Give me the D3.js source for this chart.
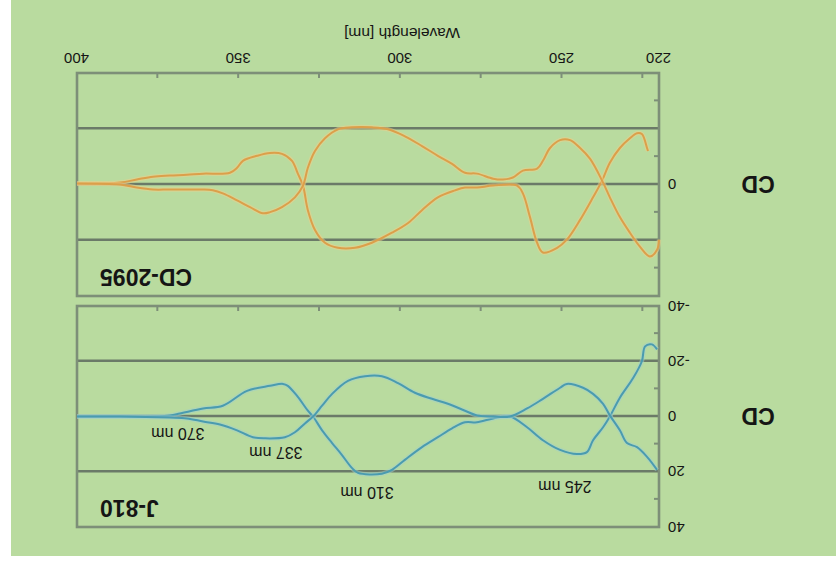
<!DOCTYPE html>
<html>
<head>
<meta charset="utf-8">
<script src="https://cdn.jsdelivr.net/npm/d3@7"></script>
<style>
  html, body { margin: 0; padding: 0; background: #fff; }
  svg text { font-family: "Liberation Sans", Arial, sans-serif; fill: #151515; }
</style>
</head>
<body>
<div id="chart"></div>
<script>
// [wavelength nm, CD mdeg]
const j810A = [[400,0],[386.7,0],[371.3,-0.4],[368.2,-1.1],[361,-2.9],[354.9,-3.9],[347.4,-9.3],[340.3,-11.1],[336.3,-11.8],[334.8,-11.1],[331.7,-7.1],[328.6,-2.1],[327,0],[324.2,5],[321.1,9.6],[318.1,13.9],[315,18.6],[313.1,20.4],[305.7,20.7],[302.6,19.3],[298.6,15.7],[293.3,11.1],[288.4,7.5],[284,4.3],[280,2.1],[276.3,2.1],[271.3,0.7],[266.1,0],[260.8,3.9],[255.9,8.6],[250.6,12.1],[245.4,13.6],[242.3,12.9],[240.4,8.6],[237.3,3.9],[235.2,0],[232.1,-6.8],[228,-13.9],[225.3,-20],[224.3,-25.4],[222.2,-26.1],[220.6,-24.3]];
const j810B = [[400,0],[386.7,0],[371.3,0.4],[366,0.7],[361,1.8],[355.8,2.9],[350.5,5],[345.6,7.5],[341.9,7.9],[335.7,7.5],[332.6,5.7],[329.5,2.5],[327,0],[324.2,-3.9],[321.1,-8.2],[316.2,-12.9],[310.9,-14.6],[305.7,-14.6],[300.7,-12.1],[295.5,-8.6],[290.2,-6.4],[285.3,-4.6],[280,-2.1],[276.3,-0.4],[271.3,0],[266.1,0],[260.8,-2.9],[255.9,-6.4],[250.6,-10.4],[248.5,-11.8],[243.5,-10.4],[240.4,-8.2],[237.3,-4.6],[235.2,-0.4],[232.1,5],[229.9,9.6],[226.8,11.1],[223.7,14.6],[220.6,19.3]];
const cd2095A = [[400,-0.4],[386.7,-0.7],[381.5,-1.8],[376.5,-2.8],[371.3,-3.2],[366,-3.5],[361,-3.9],[352.7,-4.2],[350.5,-6],[348.7,-8.5],[344.3,-10.3],[340.3,-11.3],[336.6,-11],[333.5,-8.5],[331.7,-3.9],[330.1,0.4],[328.6,9.2],[326.4,16.3],[323.3,20.9],[319.3,22.7],[314,22.7],[308.8,20.9],[302.6,17.3],[297.6,13.8],[293.3,9.2],[288.4,4.6],[283.1,2.1],[280,1.1],[276.3,1.1],[271.3,0.4],[263.9,0.4],[262.1,3.2],[259.9,11.7],[257.7,20.9],[255.9,24.4],[251.5,22.7],[248.5,19.8],[244.4,12.7],[240.4,4.6],[237.6,-1.4],[235.2,-7.8],[232.1,-13.1],[229,-16.6],[226.8,-18.4],[225.3,-18.1],[223.7,-13.1],[223.4,-12]];
const cd2095B = [[400,-0.4],[386.7,0],[381.5,1.1],[376.5,1.8],[371.3,1.8],[361,1.8],[358,2.1],[354.9,3.2],[350.5,5.7],[346.5,8.1],[342.5,10.3],[340.3,9.9],[336.6,8.1],[332.6,4.6],[330.1,0.4],[328.6,-6],[326.4,-12],[323.3,-16.6],[319.3,-19.8],[315,-20.5],[308.8,-20.5],[303.8,-19.8],[298.6,-17.3],[293.3,-13.8],[288.4,-10.3],[284,-7.4],[280,-4.2],[276.3,-3.9],[271.3,-2.1],[268.3,-1.8],[265.2,-2.5],[262.1,-5],[257.7,-5.7],[255.9,-8.5],[253.7,-13.1],[250.6,-15.9],[247.5,-15.9],[244.4,-13.1],[241.3,-9.2],[237.6,-1.4],[235.2,4.6],[232.1,11.7],[229,17.3],[225.9,22.3],[222.8,25.8],[220.6,23.4],[220,19.8]];

const xTickLabels = [220, 250, 300, 350, 400];
const xMinorTicks = [225, 250, 275, 300, 325, 350, 375];
const yLabelsJ = [-40, -20, 0, 20, 40];
const yLabelsCD = [0];
const yGrid = [-20, 0, 20];
const yMinor = [-30, -10, 10, 30];
const peakNotes = [
  { text: "370 nm", wl: 368.8, cd: 6.3 },
  { text: "337 nm", wl: 338.5, cd: 13.2 },
  { text: "310 nm", wl: 310.3, cd: 27.7 },
  { text: "245 nm", wl: 249.1, cd: 25.5 }
];

const width = 836, height = 567;
const svg = d3.select("#chart").append("svg")
  .attr("width", width).attr("height", height);

// the reference picture is upside down, so draw upright and turn it round
const g = svg.append("g").attr("transform", "rotate(180," + width / 2 + "," + height / 2 + ")");

g.append("rect").attr("x", 0).attr("y", 11).attr("width", 825).attr("height", 556)
  .attr("fill", "#b9db9f");

const x = d3.scaleLinear().domain([220, 400]).range([177, 759]);
const yJ = d3.scaleLinear().domain([-40, 40]).range([261, 40]);
const yC = d3.scaleLinear().domain([-40, 40]).range([494, 271]);
const plain = d => String(d);   // hyphen minus, like the original

function drawPanel(y, seriesList, color, halo, labels, title) {
  const top = y.range()[1], bottom = y.range()[0];
  const p = g.append("g");

  // grid lines
  p.append("g").attr("transform", "translate(" + x.range()[0] + ",0)")
    .call(d3.axisLeft(y).tickValues(yGrid).tickSize(-(x.range()[1] - x.range()[0])).tickFormat(""))
    .call(s => s.select(".domain").remove())
    .call(s => s.selectAll("line").attr("stroke", "#6b7a68").attr("stroke-width", 2.6));

  // minor y ticks
  p.append("g").attr("transform", "translate(" + x.range()[0] + ",0)")
    .call(d3.axisLeft(y).tickValues(yMinor).tickSize(-5).tickFormat(""))
    .call(s => s.select(".domain").remove())
    .call(s => s.selectAll("line").attr("stroke", "#7d8f78").attr("stroke-width", 2));

  // x ticks on the bottom edge, pointing in
  p.append("g").attr("transform", "translate(0," + bottom + ")")
    .call(d3.axisBottom(x).tickValues(xMinorTicks).tickSize(-5).tickFormat(""))
    .call(s => s.select(".domain").remove())
    .call(s => s.selectAll("line").attr("stroke", "#7d8f78").attr("stroke-width", 2));

  // y labels
  p.append("g").attr("transform", "translate(" + x.range()[0] + ",0)")
    .call(d3.axisLeft(y).tickValues(labels).tickSize(0).tickPadding(9).tickFormat(plain))
    .call(s => s.select(".domain").remove())
    .call(s => s.selectAll("text").attr("font-size", 15).attr("fill", "#151515"));

  // frame
  p.append("rect").attr("x", x.range()[0]).attr("y", top)
    .attr("width", x.range()[1] - x.range()[0]).attr("height", bottom - top)
    .attr("fill", "none").attr("stroke", "#7d8f78").attr("stroke-width", 2.6);

  const line = d3.line().x(d => x(d[0])).y(d => y(d[1])).curve(d3.curveCatmullRom.alpha(0.5));
  seriesList.forEach(s => {
    p.append("path").datum(s).attr("d", line).attr("fill", "none")
      .attr("stroke", halo).attr("stroke-width", 4.5).attr("opacity", 0.5);
    p.append("path").datum(s).attr("d", line).attr("fill", "none")
      .attr("stroke", color).attr("stroke-width", 2);
  });

  p.append("text").attr("x", 736).attr("y", top + 27).attr("text-anchor", "end")
    .attr("font-size", 23).attr("font-weight", "bold").text(title);

  g.append("text").attr("x", 78).attr("y", y(0)).attr("dy", "0.35em").attr("text-anchor", "middle")
    .attr("font-size", 23).attr("font-weight", "bold").text("CD");
}

drawPanel(yJ, [j810A, j810B], "#4a9bb0", "#9fd0d0", yLabelsJ, "J-810");
drawPanel(yC, [cd2095A, cd2095B], "#dc9f4a", "#efcf8a", yLabelsCD, "CD-2095");

// peak annotations on the J-810 panel
g.append("g").selectAll("text").data(peakNotes).enter().append("text")
  .attr("x", d => x(d.wl)).attr("y", d => yJ(d.cd)).attr("dy", "0.35em")
  .attr("text-anchor", "middle").attr("font-size", 16).text(d => d.text);

// x axis labels under the lower panel
g.append("g").attr("transform", "translate(0," + yC.range()[0] + ")")
  .call(d3.axisBottom(x).tickValues(xTickLabels).tickSize(0).tickPadding(9).tickFormat(plain))
  .call(s => s.select(".domain").remove())
  .call(s => s.selectAll("text").attr("font-size", 15).attr("fill", "#151515"));

g.append("text").attr("x", 434).attr("y", 534).attr("dy", "0.35em").attr("text-anchor", "middle")
  .attr("font-size", 15.5).text("Wavelength [nm]");
</script>
</body>
</html>
